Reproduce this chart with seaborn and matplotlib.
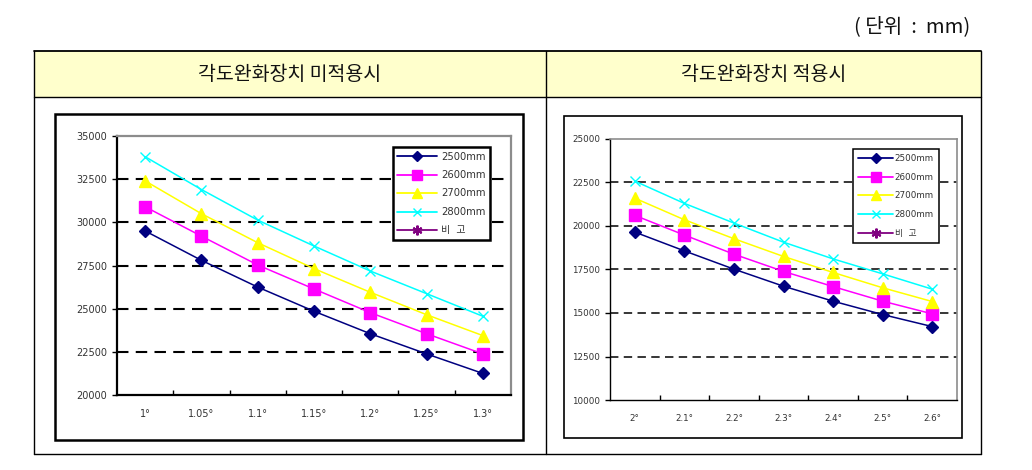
import matplotlib
matplotlib.use("Agg")
import matplotlib.pyplot as plt
import seaborn as sns
import pandas as pd
from matplotlib.lines import Line2D
from matplotlib.patches import Rectangle

# ---------------- data ----------------
left_angles = ['1°', '1.05°', '1.1°', '1.15°', '1.2°', '1.25°', '1.3°']
right_angles = ['2°', '2.1°', '2.2°', '2.3°', '2.4°', '2.5°', '2.6°']
series_names = ['2500mm', '2600mm', '2700mm', '2800mm']
extra_name = '비  고'

left_2500 = [29500, 27800, 26250, 24850, 23550, 22380, 21250]
left_2600 = [30900, 29200, 27530, 26140, 24770, 23550, 22380]
left_2700 = [32400, 30500, 28820, 27320, 25950, 24650, 23440]
left_2800 = [33800, 31900, 30130, 28630, 27180, 25870, 24560]

right_2500 = [19650, 18570, 17520, 16540, 15680, 14910, 14220]
right_2600 = [20610, 19480, 18380, 17390, 16520, 15680, 14950]
right_2700 = [21600, 20360, 19270, 18250, 17330, 16450, 15660]
right_2800 = [22580, 21300, 20170, 19070, 18110, 17250, 16370]

left_yticks = [20000, 22500, 25000, 27500, 30000, 32500, 35000]
right_yticks = [10000, 12500, 15000, 17500, 20000, 22500, 25000]

header_left = '각도완화장치 미적용시'
header_right = '각도완화장치 적용시'
unit_text = '( 단위  :  mm)'

# ---------------- style ----------------
sns.set_style("white")
plt.rcParams['font.family'] = ['DejaVu Sans', 'Noto Sans CJK KR']

W, H = 1032, 470
fig = plt.figure(figsize=(W / 100, H / 100), dpi=100)


def fx(x):
    return x / W


def fy(y):
    return 1 - y / H


styles = {
    '2500mm': dict(color='#000080', marker='D', ms=6.2),
    '2600mm': dict(color='#FF00FF', marker='s', ms=8.2),
    '2700mm': dict(color='#FFFF00', marker='^', ms=8.5),
    '2800mm': dict(color='#00FFFF', marker='x', ms=7.0),
}
extra_style = dict(color='#800080', marker=(6, 2, 0), ms=7.0)


def draw_chart(rect, arrays, xlabels, yticks, heavy, tick_fs, leg_fs,
               leg_anchor, leg_spacing, leg_pad, leg_textpad):
    ax = fig.add_axes(rect)
    rows = []
    for name, vals in zip(series_names, arrays):
        for i, v in enumerate(vals):
            rows.append({'pos': i, 'value': v, 'series': name})
    df = pd.DataFrame(rows)
    for name in series_names:
        st = styles[name]
        sub = df[df['series'] == name]
        sns.lineplot(data=sub, x='pos', y='value', ax=ax, color=st['color'],
                     marker=st['marker'], markersize=st['ms'],
                     markeredgecolor=st['color'], markerfacecolor=st['color'],
                     markeredgewidth=1.0, linewidth=1.1, legend=False,
                     zorder=3)
    ax.set_xlim(-0.5, len(xlabels) - 0.5)
    ax.set_ylim(yticks[0], yticks[-1])
    ax.set_xlabel('')
    ax.set_ylabel('')
    # grid lines
    glw = 1.5 if heavy else 1.1
    for v in yticks[1:-1]:
        ax.axhline(v, color='black', lw=glw, ls=(0, (5.5, 3.5)), zorder=1)
    # spines
    slw = 1.6 if heavy else 1.0
    for s in ['left', 'bottom']:
        ax.spines[s].set_color('black')
        ax.spines[s].set_linewidth(slw)
    for s in ['top', 'right']:
        ax.spines[s].set_color('#8c8c8c')
        ax.spines[s].set_linewidth(1.6 if heavy else 1.2)
    # ticks
    ax.set_xticks(range(len(xlabels)))
    ax.set_xticklabels(xlabels, fontsize=tick_fs, color='#333333')
    ax.set_xticks([i + 0.5 for i in range(len(xlabels) - 1)], minor=True)
    ax.tick_params(axis='x', which='major', length=0, pad=10)
    ax.tick_params(axis='x', which='minor', direction='in', length=3.5,
                   width=1.0, color='black', bottom=True)
    ax.set_yticks(yticks)
    ax.set_yticklabels([str(v) for v in yticks], fontsize=tick_fs,
                       color='#333333')
    ax.tick_params(axis='y', which='major', direction='out', length=3.5,
                   width=1.0, color='black', left=True, pad=3.5)
    # legend
    handles = []
    for name in series_names:
        st = styles[name]
        handles.append(Line2D([], [], color=st['color'], marker=st['marker'],
                              markersize=st['ms'] * 0.9, mec=st['color'],
                              mfc=st['color'], mew=1.0, lw=1.3))
    handles.append(Line2D([], [], color=extra_style['color'],
                          marker=extra_style['marker'],
                          markersize=extra_style['ms'], mec=extra_style['color'],
                          mew=1.5, lw=1.3))
    leg = ax.legend(handles, series_names + [extra_name], loc='upper right',
                    bbox_to_anchor=leg_anchor, frameon=True, fancybox=False,
                    edgecolor='black', framealpha=1, facecolor='white',
                    fontsize=leg_fs, handlelength=4.0,
                    handletextpad=leg_textpad, labelspacing=leg_spacing,
                    borderpad=leg_pad, borderaxespad=0)
    leg.get_frame().set_linewidth(1.8 if heavy else 1.1)
    leg.set_zorder(5)
    for t in leg.get_texts():
        t.set_color('#333333')
    return ax


# left chart: plot area x 117..511, y 136..395
draw_chart([fx(117), fy(395), (511 - 117) / W, (395 - 136) / H],
           [left_2500, left_2600, left_2700, left_2800], left_angles,
           left_yticks, True, 7.0, 7.2,
           ((490 - 117) / (511 - 117), (395 - 147) / (395 - 136)),
           0.85, 0.45, 0.4)

# right chart: plot area x 610..957, y 139..400
draw_chart([fx(610), fy(400), (957 - 610) / W, (400 - 139) / H],
           [right_2500, right_2600, right_2700, right_2800], right_angles,
           right_yticks, False, 6.3, 6.3,
           ((939 - 610) / (957 - 610), (400 - 149) / (400 - 139)),
           1.1, 0.6, 0.15)

# ---------------- table frame ----------------
t_left, t_div, t_right = 34, 546, 981
t_top, t_head, t_bot = 51, 97, 454

fig.add_artist(Rectangle((fx(t_left), fy(t_head)), fx(t_right) - fx(t_left),
                         fy(t_top) - fy(t_head), transform=fig.transFigure,
                         facecolor='#FFFFCC', edgecolor='none', zorder=0.5))


def hline(y, x0, x1, lw=1.0):
    fig.add_artist(Line2D([fx(x0), fx(x1)], [fy(y), fy(y)],
                          transform=fig.transFigure, color='black', lw=lw))


def vline(x, y0, y1, lw=1.0):
    fig.add_artist(Line2D([fx(x), fx(x)], [fy(y0), fy(y1)],
                          transform=fig.transFigure, color='black', lw=lw))


hline(t_top, t_left, t_right, 1.3)
hline(t_head, t_left, t_right, 1.0)
hline(t_bot, t_left, t_right, 1.0)
vline(t_left, t_top, t_bot, 1.0)
vline(t_div, t_top, t_bot, 1.0)
vline(t_right, t_top, t_bot, 1.0)

# chart outer boxes
fig.add_artist(Rectangle((fx(55), fy(440)), fx(523) - fx(55),
                         fy(114) - fy(440), transform=fig.transFigure,
                         fill=False, edgecolor='black', lw=1.8))
fig.add_artist(Rectangle((fx(564), fy(438)), fx(962) - fx(564),
                         fy(116) - fy(438), transform=fig.transFigure,
                         fill=False, edgecolor='black', lw=1.2))

# header texts
cjk = ['Noto Sans CJK KR', 'DejaVu Sans']
fig.text(fx((t_left + t_div) / 2), fy(75), header_left, ha='center',
         va='center', fontsize=14, family=cjk, color='#111111')
fig.text(fx((t_div + t_right) / 2), fy(75), header_right, ha='center',
         va='center', fontsize=14, family=cjk, color='#111111')
fig.text(fx(970), fy(27), unit_text, ha='right', va='center', fontsize=14.5,
         family=cjk, color='#111111')

fig.savefig('out.png', dpi=100)
